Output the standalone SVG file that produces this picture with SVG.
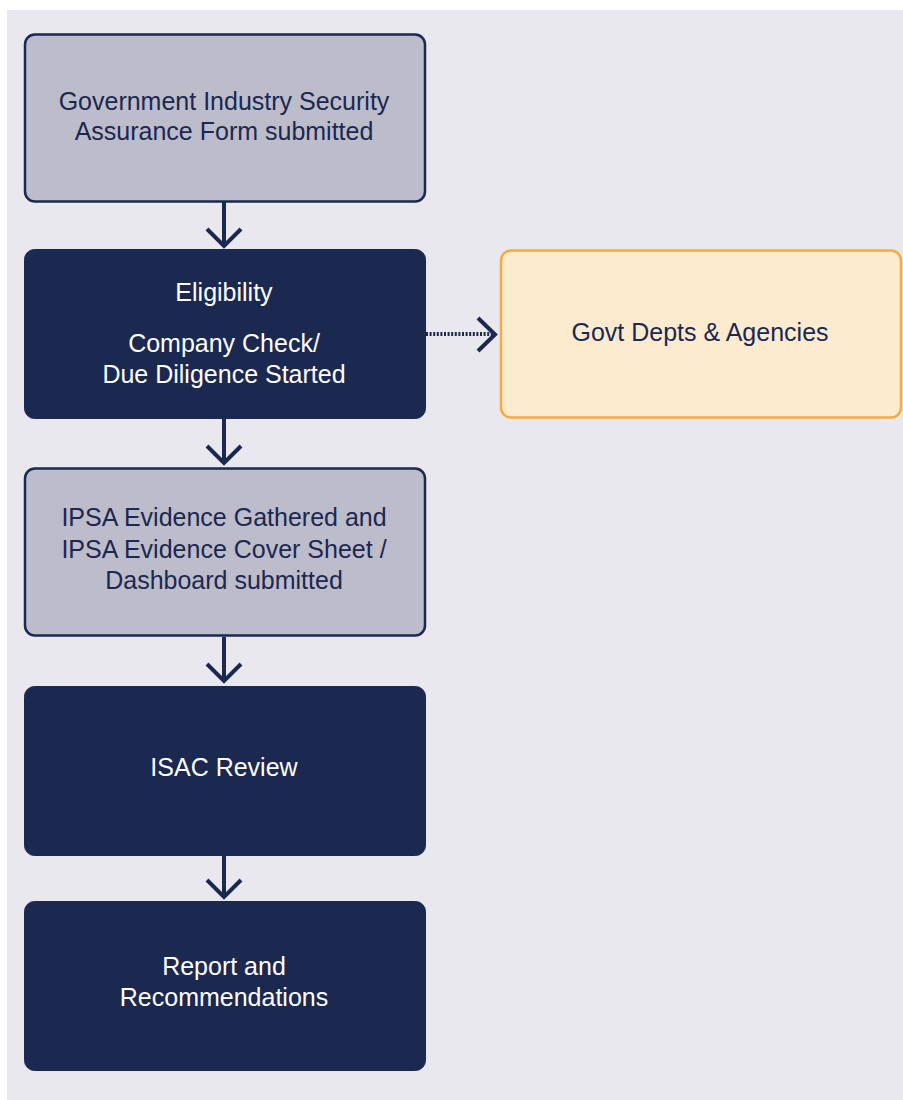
<svg xmlns="http://www.w3.org/2000/svg" width="903" height="1100" viewBox="0 0 903 1100">
<style>
.bg{fill:#e9e8ee}
.light{fill:#bdbccb;stroke:#1b2850;stroke-width:2.5}
.dark{fill:#1b2850;stroke:#1b2850;stroke-width:1}
.ext{fill:#fdebd0;stroke:#f8ab3c;stroke-width:2.5}
text{font-family:"Liberation Sans",Arial,sans-serif;font-size:25px;text-anchor:middle}
.tl{fill:#1b2850}
.tw{fill:#ffffff}
.conn{stroke:#1b2850;stroke-width:4;fill:none}
.dot{stroke-dasharray:2 1.6;stroke-width:4}
</style>
<rect class="bg" x="7" y="10" width="896" height="1090"/>
<g id="connectors">
<path class="conn" d="M224 202V246M207 229L224 246L241 229"/>
<path class="conn" d="M224 419V463M207 446L224 463L241 446"/>
<path class="conn" d="M224 637V681M207 664L224 681L241 664"/>
<path class="conn" d="M224 855V897M207 880L224 897L241 880"/>
<path class="conn dot" d="M426 334H495"/>
<path class="conn" d="M478 318L495 334.5L478 351"/>
</g>
<g id="n1">
<rect class="light" x="25" y="34.5" width="400" height="167" rx="10"/>
<text class="tl" x="224" y="110">Government Industry Security</text>
<text class="tl" x="224" y="140">Assurance Form submitted</text>
</g>
<g id="n2">
<rect class="dark" x="24.5" y="249.5" width="401" height="169" rx="10"/>
<text class="tw" x="224" y="301">Eligibility</text>
<text class="tw" x="224" y="352">Company Check/</text>
<text class="tw" x="224" y="383">Due Diligence Started</text>
</g>
<g id="n3">
<rect class="light" x="25" y="468.5" width="400" height="167" rx="10"/>
<text class="tl" x="224" y="526">IPSA Evidence Gathered and</text>
<text class="tl" x="224" y="558">IPSA Evidence Cover Sheet /</text>
<text class="tl" x="224" y="589">Dashboard submitted</text>
</g>
<g id="n4">
<rect class="dark" x="24.5" y="686.5" width="401" height="169" rx="10"/>
<text class="tw" x="224" y="776">ISAC Review</text>
</g>
<g id="n5">
<rect class="dark" x="24.5" y="901.5" width="401" height="169" rx="10"/>
<text class="tw" x="224" y="975">Report and</text>
<text class="tw" x="224" y="1006">Recommendations</text>
</g>
<g id="n6">
<rect class="ext" x="501" y="250.5" width="400" height="167" rx="10"/>
<text class="tl" x="700" y="341">Govt Depts &amp; Agencies</text>
</g>
</svg>
